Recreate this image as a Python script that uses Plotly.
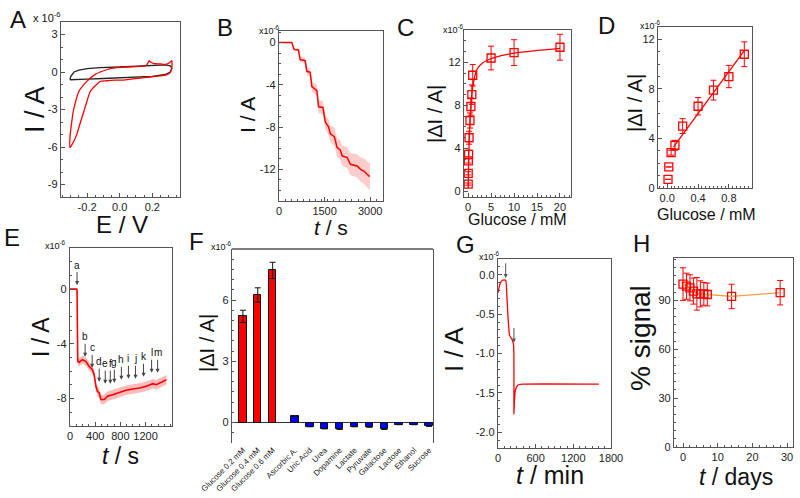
import plotly.graph_objects as go

W, H = 800, 498
FONT = "Liberation Sans"

# ---------------- data ----------------
# A: cyclic voltammograms (E / V, I / 1e-6 A)
cv_black_E = [-0.305, -0.30, -0.28, -0.25, -0.20, -0.12, 0.00, 0.10, 0.16, 0.20, 0.28, 0.31, 0.32, 0.31, 0.28, 0.20, 0.10, 0.00, -0.10, -0.20, -0.305]
cv_black_I = [-0.62, -0.35, 0.00, 0.15, 0.27, 0.35, 0.40, 0.45, 0.50, 0.55, 0.57, 0.50, 0.30, 0.00, -0.20, -0.35, -0.42, -0.50, -0.52, -0.57, -0.62]
cv_red_E = [0.32, 0.32, 0.31, 0.28, 0.22, 0.15, 0.08, 0.02, -0.03, -0.08, -0.12, -0.15, -0.18, -0.20, -0.22, -0.245, -0.265, -0.29, -0.305,
            -0.304, -0.296, -0.285, -0.27, -0.25, -0.20, -0.15, -0.076, -0.02, 0.05, 0.12, 0.16, 0.175, 0.18, 0.19, 0.21, 0.25, 0.28, 0.30, 0.315, 0.32]
cv_red_I = [0.90, 0.30, -0.05, -0.25, -0.35, -0.45, -0.55, -0.65, -0.65, -0.70, -0.76, -1.10, -1.54, -2.30, -3.16, -4.20, -5.05, -5.75, -6.05,
            -5.05, -4.20, -3.16, -2.35, -1.54, -0.73, -0.19, 0.20, 0.35, 0.40, 0.45, 0.50, 0.75, 0.90, 0.80, 0.68, 0.65, 0.60, 0.70, 0.85, 0.90]

# B: amperometric response (t / s, I / 1e-6 A)
b_t = [0, 419, 496, 640, 695, 860, 915, 1026, 1081, 1246, 1302, 1445, 1522, 1632, 1688, 1820, 1908, 2018, 2074, 2239, 2349, 2570, 2680, 2791, 2956, 2990]
b_I = [0, 0, -0.64, -0.70, -1.6, -1.7, -2.72, -2.82, -4.16, -4.54, -6.08, -6.14, -7.52, -8.0, -8.64, -8.9, -9.92, -10.18, -10.72, -10.88, -11.52, -11.68, -12.0, -12.16, -12.64, -12.64]
b_sd = [0, 0, 0.1, 0.15, 0.25, 0.3, 0.35, 0.4, 0.5, 0.55, 0.6, 0.65, 0.7, 0.75, 0.8, 0.85, 0.9, 0.9, 0.95, 1.0, 1.05, 1.1, 1.15, 1.2, 1.25, 1.3]

# C / D: calibration (glucose / mM, |dI| / 1e-6 A)
glc = [0.01, 0.02, 0.05, 0.1, 0.2, 0.4, 0.6, 0.8, 1.0, 5, 10, 20]
dI = [0.7, 1.7, 2.85, 3.45, 5.0, 6.6, 7.9, 9.0, 10.8, 12.4, 12.9, 13.4]
dI_err = [0.1, 0.15, 0.2, 0.4, 0.6, 0.7, 0.8, 0.9, 1.0, 1.1, 1.2, 1.2]
fitC_x = [0, 0.1, 0.2, 0.4, 0.6, 0.8, 1.0, 1.5, 2, 3, 4, 5, 7, 10, 15, 20]
fitC_y = [0.3, 2.5, 4.2, 6.4, 7.8, 8.9, 9.7, 10.8, 11.4, 11.9, 12.15, 12.35, 12.6, 12.85, 13.1, 13.3]
d_idx = 9  # points up to 1 mM in panel D
fitD_x = [0.08, 1.0]
fitD_y = [3.3, 11.1]

# E: interference test trace (t / s, I / 1e-6 A)
e_t = [0, 107, 112, 123, 144, 197, 251, 304, 357, 384, 411, 437, 464, 491, 544, 597, 677, 784, 891, 997, 1104, 1211, 1317, 1371, 1451, 1531]
e_I = [0, 0, -0.1, -5.28, -5.36, -5.16, -5.28, -5.65, -5.89, -6.25, -7.1, -7.47, -7.59, -8.07, -8.07, -7.83, -7.71, -7.54, -7.39, -7.3, -7.23, -7.1, -6.91, -6.98, -6.81, -6.62]
e_sd = [0.05, 0.05, 0.1, 0.3, 0.3, 0.3, 0.3, 0.3, 0.3, 0.3, 0.35, 0.35, 0.35, 0.35, 0.35, 0.35, 0.35, 0.35, 0.35, 0.35, 0.35, 0.35, 0.35, 0.35, 0.35, 0.35]
e_marks = ["a", "b", "c", "d", "e", "f", "g", "h", "i", "j", "k", "l", "m"]
e_mark_t = [112, 240, 352, 464, 560, 640, 704, 816, 928, 1040, 1168, 1296, 1392]
e_mark_I = [0.29, -4.95, -5.75, -6.76, -6.91, -6.91, -6.84, -6.62, -6.55, -6.55, -6.4, -6.11, -6.11]

# F: selectivity
f_labels = ["Glucose 0.2 mM", "Glucose 0.4 mM", "Glucose 0.6 mM", "Ascorbic A.", "Uric Acid", "Urea", "Dopamine",
            "Lactate", "Pyruvate", "Galactose", "Lactose", "Ethanol", "Sucrose"]
f_pos = [1, 2, 3, 4.5, 5.5, 6.5, 7.5, 8.5, 9.5, 10.5, 11.5, 12.5, 13.5]
f_vals = [5.2, 6.25, 7.45, 0.3, -0.2, -0.3, -0.33, -0.2, -0.22, -0.33, -0.1, -0.1, -0.18]
f_err = [0.3, 0.35, 0.4]

# G: long trace (t / min, I / 1e-6 A)
g_t = [0, 30, 69, 122, 140, 159, 185, 228, 249, 254, 262, 276, 318, 398, 1606]
g_I = [-0.23, -0.12, -0.07, -0.07, -0.25, -0.53, -0.77, -0.83, -0.9, -1.77, -1.6, -1.47, -1.4, -1.39, -1.39]
g_arrow_t = [122, 254]
g_arrow_I = [-0.04, -0.86]

# H: stability
h_days = [0, 1, 2, 3, 4, 5, 6, 7, 14, 28]
h_sig = [100, 98.7, 97.7, 95.7, 94, 94, 94, 93.6, 92.4, 94.7]
h_err = [10, 8, 8, 8, 10, 8, 7, 7, 7.5, 7.5]

RED = "#ff0000"

fig = go.Figure()

# ---------------- traces ----------------
fig.add_trace(go.Scatter(x=cv_black_E, y=cv_black_I, mode="lines", line=dict(color="#222", width=1.3), xaxis="x", yaxis="y"))
fig.add_trace(go.Scatter(x=cv_red_E, y=cv_red_I, mode="lines", line=dict(color=RED, width=1.3, shape="spline", smoothing=0.6), xaxis="x", yaxis="y"))

b_up = [v + s for v, s in zip(b_I, b_sd)]
b_lo = [v - s for v, s in zip(b_I, b_sd)]
fig.add_trace(go.Scatter(x=b_t, y=b_up, mode="lines", line=dict(width=0), xaxis="x2", yaxis="y2"))
fig.add_trace(go.Scatter(x=b_t, y=b_lo, mode="lines", line=dict(width=0), fill="tonexty",
                         fillcolor="rgba(255,0,0,0.2)", xaxis="x2", yaxis="y2"))
fig.add_trace(go.Scatter(x=b_t, y=b_I, mode="lines", line=dict(color=RED, width=1.5), xaxis="x2", yaxis="y2"))

fig.add_trace(go.Scatter(x=fitC_x, y=fitC_y, mode="lines", line=dict(color=RED, width=1.3, shape="spline"), xaxis="x3", yaxis="y3"))
fig.add_trace(go.Scatter(x=glc, y=dI, mode="markers",
                         marker=dict(symbol="square-open", size=8, color=RED, line=dict(width=1.3)),
                         error_y=dict(type="data", array=dI_err, color=RED, thickness=1, width=3),
                         xaxis="x3", yaxis="y3"))

fig.add_trace(go.Scatter(x=fitD_x, y=fitD_y, mode="lines", line=dict(color=RED, width=1.3), xaxis="x4", yaxis="y4"))
fig.add_trace(go.Scatter(x=glc[:d_idx], y=dI[:d_idx], mode="markers",
                         marker=dict(symbol="square-open", size=8, color=RED, line=dict(width=1.3)),
                         error_y=dict(type="data", array=[0, 0, 0.2] + dI_err[3:d_idx], color=RED, thickness=1, width=3),
                         xaxis="x4", yaxis="y4"))

e_up = [v + s for v, s in zip(e_I, e_sd)]
e_lo = [v - s for v, s in zip(e_I, e_sd)]
fig.add_trace(go.Scatter(x=e_t, y=e_up, mode="lines", line=dict(width=0), xaxis="x5", yaxis="y5"))
fig.add_trace(go.Scatter(x=e_t, y=e_lo, mode="lines", line=dict(width=0), fill="tonexty",
                         fillcolor="rgba(255,60,60,0.35)", xaxis="x5", yaxis="y5"))
fig.add_trace(go.Scatter(x=e_t, y=e_I, mode="lines", line=dict(color=RED, width=1.6), xaxis="x5", yaxis="y5"))

f_colors = [RED if i < 3 else "#0000ff" for i in range(len(f_vals))]
fig.add_trace(go.Bar(x=f_pos, y=f_vals, width=0.5, marker=dict(color=f_colors, line=dict(color="#111", width=1)),
                     error_y=dict(type="data", array=f_err + [0] * (len(f_vals) - 3), color="#111", thickness=1, width=3),
                     xaxis="x6", yaxis="y6"))

fig.add_trace(go.Scatter(x=g_t, y=g_I, mode="lines", line=dict(color=RED, width=1.3, shape="spline", smoothing=0.5), xaxis="x7", yaxis="y7"))

fig.add_trace(go.Scatter(x=h_days, y=h_sig, mode="lines+markers", line=dict(color="#f5a040", width=1.3),
                         marker=dict(symbol="square-open", size=8, color=RED, line=dict(width=1.3)),
                         error_y=dict(type="data", array=h_err, color=RED, thickness=1, width=3),
                         xaxis="x8", yaxis="y8"))

# ---------------- axes ----------------
panels = {
    1: (61, 180, 22, 197),
    2: (279, 383, 31, 201),
    3: (464, 571, 30, 197),
    4: (658, 752, 27, 188),
    5: (70, 172, 248, 426),
    6: (232, 433, 249, 443),
    7: (498, 611, 259, 448),
    8: (674, 793, 258, 447),
}

def base_axis():
    return dict(showline=True, mirror=True, linecolor="#555", linewidth=1.3, ticks="inside", ticklen=4,
                tickcolor="#555", tickwidth=1, showgrid=False, zeroline=False, automargin=False,
                tickfont=dict(family=FONT, size=11, color="#222"),
                minor=dict(ticks="inside", ticklen=2, tickcolor="#555"))

def lbl(v, fmt="{:g}"):
    return [fmt.format(x).replace("\u2212", "-") for x in v]

ax_spec = {
    1: (dict(range=[-0.36, 0.37], tickvals=[-0.2, 0, 0.2], ticktext=lbl([-0.2, 0.0, 0.2], "{:.1f}")),
        dict(range=[-10, 4], tickvals=[3, 0, -3, -6, -9], ticktext=lbl([3, 0, -3, -6, -9]))),
    2: (dict(range=[0, 3420], tickvals=[0, 1500, 3000], ticktext=lbl([0, 1500, 3000])),
        dict(range=[-15, 1.1], tickvals=[0, -4, -8, -12], ticktext=lbl([0, -4, -8, -12]))),
    3: (dict(range=[-0.9, 22.4], tickvals=[0, 5, 10, 15, 20], ticktext=lbl([0, 5, 10, 15, 20])),
        dict(range=[-0.5, 15], tickvals=[0, 4, 8, 12], ticktext=lbl([0, 4, 8, 12]))),
    4: (dict(range=[-0.12, 1.1], tickvals=[0, 0.4, 0.8], ticktext=lbl([0, 0.4, 0.8], "{:.1f}")),
        dict(range=[0, 13], tickvals=[0, 4, 8, 12], ticktext=lbl([0, 4, 8, 12]))),
    5: (dict(range=[0, 1620], tickvals=[0, 400, 800, 1200], ticktext=lbl([0, 400, 800, 1200])),
        dict(range=[-10, 3], tickvals=[0, -4, -8], ticktext=lbl([0, -4, -8]))),
    6: (dict(range=[0.27, 13.77], tickvals=f_pos, ticktext=f_labels),
        dict(range=[-1, 8.5], tickvals=[0, 3, 6], ticktext=lbl([0, 3, 6]))),
    7: (dict(range=[0, 1800], tickvals=[0, 600, 1200, 1800], ticktext=lbl([0, 600, 1200, 1800])),
        dict(range=[-2.2, 0.2], tickvals=[0, -0.5, -1.0, -1.5, -2.0], ticktext=lbl([0, -0.5, -1.0, -1.5, -2.0], "{:.1f}"))),
    8: (dict(range=[-2.6, 31.7], tickvals=[0, 10, 20, 30], ticktext=lbl([0, 10, 20, 30])),
        dict(range=[0, 116], tickvals=[0, 30, 60, 90], ticktext=lbl([0, 30, 60, 90]))),
}

layout = {}
for i, (l, r, t, b) in panels.items():
    sfx = "" if i == 1 else str(i)
    xa = base_axis()
    ya = base_axis()
    xa.update(ax_spec[i][0])
    ya.update(ax_spec[i][1])
    xa.update(domain=[l / W, r / W], anchor="y" + sfx)
    ya.update(domain=[1 - b / H, 1 - t / H], anchor="x" + sfx)
    layout["xaxis" + sfx] = xa
    layout["yaxis" + sfx] = ya

# panel F: no bottom line, zero line, slanted small category labels
layout["xaxis6"].update(showline=False, ticks="", minor=dict(ticks=""), tickangle=-45,
                        tickfont=dict(family=FONT, size=8, color="#222"))
layout["yaxis6"].update(zeroline=True, zerolinecolor="#333", zerolinewidth=1.3)

fig.update_layout(**layout)

# ---------------- annotations ----------------
anns = []

def txt(text, x, y, size, angle=0, xanchor="center", yanchor="middle", color="#111"):
    anns.append(dict(text=text, x=x / W, y=1 - y / H, xref="paper", yref="paper", showarrow=False,
                     textangle=angle, xanchor=xanchor, yanchor=yanchor,
                     font=dict(family=FONT, size=size, color=color)))

# panel letters
for letter, x, y in [("A", 18, 19), ("B", 225, 27), ("C", 405, 27), ("D", 606, 26),
                     ("E", 12, 238), ("F", 196, 241), ("G", 465, 244), ("H", 641, 243)]:
    txt(letter, x, y, 24)

# exponent labels
txt("x 10<sup>-6</sup>", 31, 17, 11, xanchor="left")
txt("x10<sup>-6</sup>", 257, 30, 9, xanchor="left")
txt("x10<sup>-6</sup>", 441, 29, 9, xanchor="left")
txt("x10<sup>-6</sup>", 638, 25, 9, xanchor="left")
txt("x10<sup>-6</sup>", 43, 245, 9, xanchor="left")
txt("x10<sup>-6</sup>", 209, 246, 9, xanchor="left")
txt("x10<sup>-6</sup>", 477, 256, 9, xanchor="left")

# axis titles
txt("I / A", 35, 110, 27, angle=-90)
txt("E / V", 122, 224, 24)
txt("I / A", 248, 115, 21, angle=-90)
txt("<i>t</i> / s", 331, 227, 21)
txt("|\u0394I / A|", 435, 114, 20, angle=-90)
txt("Glucose / mM", 517, 220, 16)
txt("|\u0394I / A|", 635, 103, 20, angle=-90)
txt("Glucose / mM", 706, 214, 16)
txt("I / A", 41, 337, 23, angle=-90)
txt("<i>t</i> / s", 120, 456, 23)
txt("|\u0394I / A|", 207, 343, 20, angle=-90)
txt("I / A", 454, 350, 26, angle=-90)
txt("<i>t</i> / min", 550, 475, 25)
txt("% signal", 640, 338, 28, angle=-90)
txt("<i>t</i> / days", 736, 477, 23)

# E arrows with letters
for m, t, v in zip(e_marks, e_mark_t, e_mark_I):
    anns.append(dict(text=m, x=t, y=v, xref="x5", yref="y5", showarrow=True, ax=0, ay=-20,
                     arrowhead=2, arrowsize=0.8, arrowwidth=1, arrowcolor="#444",
                     font=dict(family=FONT, size=10, color="#111")))
# G arrows
for t, v in zip(g_arrow_t, g_arrow_I):
    anns.append(dict(text="", x=t, y=v, xref="x7", yref="y7", showarrow=True, ax=0, ay=-16,
                     arrowhead=2, arrowsize=0.8, arrowwidth=1, arrowcolor="#555"))

fig.update_layout(annotations=anns)

# top border of panel F
fig.add_shape(type="line", xref="x6 domain", yref="y6 domain", x0=0, x1=1, y0=1, y1=1,
              line=dict(color="#555", width=1.3))

fig.update_layout(width=W, height=H, margin=dict(l=0, r=0, t=0, b=0, autoexpand=False), showlegend=False,
                  paper_bgcolor="white", plot_bgcolor="white", bargap=0)

fig.write_html("out.html")
